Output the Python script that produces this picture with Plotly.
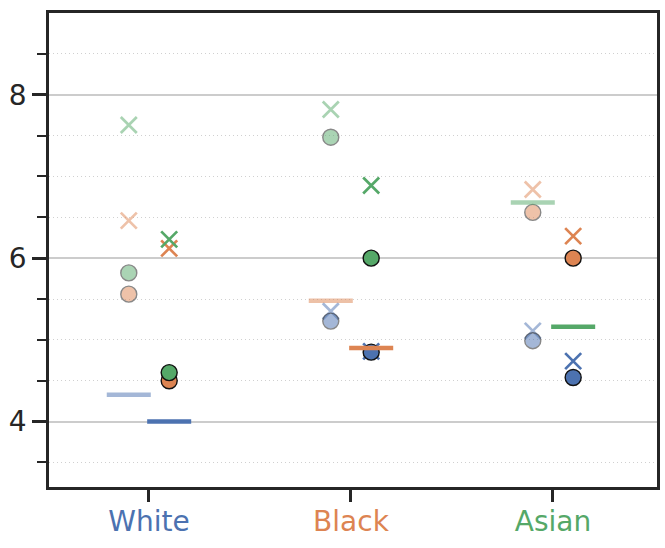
import plotly.graph_objects as go

categories = ["White", "Black", "Asian"]
colors = {"blue": "#4C72B0", "orange": "#DD8452", "green": "#55A868"}
category_colors = ["blue", "orange", "green"]

# Left (faded) group values
circle_left_blue = [None, 5.23, 4.99]
circle_left_orange = [5.56, None, 6.56]
circle_left_green = [5.82, 7.48, None]
cross_left_blue = [None, 5.35, 5.11]
cross_left_orange = [6.46, None, 6.84]
cross_left_green = [7.63, 7.82, None]
dash_left = [4.33, 5.48, 6.68]

# Right (solid) group values
circle_right_blue = [None, 4.85, 4.54]
circle_right_orange = [4.50, None, 6.00]
circle_right_green = [4.60, 6.00, None]
cross_right_blue = [None, 4.86, 4.74]
cross_right_orange = [6.12, None, 6.27]
cross_right_green = [6.23, 6.89, None]
dash_right = [4.00, 4.90, 5.16]

groups = [
    dict(offset=-0.1, opacity=0.5,
         circles={"blue": circle_left_blue, "orange": circle_left_orange, "green": circle_left_green},
         crosses={"blue": cross_left_blue, "orange": cross_left_orange, "green": cross_left_green},
         dash=dash_left),
    dict(offset=0.1, opacity=1.0,
         circles={"blue": circle_right_blue, "orange": circle_right_orange, "green": circle_right_green},
         crosses={"blue": cross_right_blue, "orange": cross_right_orange, "green": cross_right_green},
         dash=dash_right),
]

fig = go.Figure()
half = 0.109
for g in groups:
    for cname in ["blue", "orange", "green"]:
        col = colors[cname]
        xs, ys = [], []
        for i, v in enumerate(g["crosses"][cname]):
            if v is not None:
                xs.append(i + g["offset"]); ys.append(v)
        fig.add_trace(go.Scatter(x=xs, y=ys, mode="markers", opacity=g["opacity"],
                                 marker=dict(symbol="x-thin", size=16,
                                             line=dict(color=col, width=2.7)),
                                 showlegend=False, hoverinfo="skip"))
        xs, ys = [], []
        for i, v in enumerate(g["circles"][cname]):
            if v is not None:
                xs.append(i + g["offset"]); ys.append(v)
        fig.add_trace(go.Scatter(x=xs, y=ys, mode="markers", opacity=g["opacity"],
                                 marker=dict(symbol="circle", size=16, color=col,
                                             line=dict(color="#111111", width=1.4)),
                                 showlegend=False, hoverinfo="skip"))
        for i, v in enumerate(g["dash"]):
            if category_colors[i] == cname and v is not None:
                x0 = i + g["offset"]
                fig.add_trace(go.Scatter(x=[x0 - half, x0 + half], y=[v, v], mode="lines",
                                         opacity=g["opacity"],
                                         line=dict(color=col, width=4.5),
                                         showlegend=False, hoverinfo="skip"))

ticktext = [f"<span style='color:{colors[category_colors[i]]}'>{c}</span>"
            for i, c in enumerate(categories)]

axis_common = dict(showline=True, linecolor="#262626", linewidth=2.8, mirror=True,
                   ticks="outside", tickcolor="#262626", tickwidth=2.5, automargin=False,
                   zeroline=False, tickfont=dict(family="DejaVu Sans", size=28, color="#262626"))

fig.update_xaxes(range=[-0.495, 2.515], tickvals=[0, 1, 2], ticktext=ticktext,
                 ticklen=12, ticklabelstandoff=-5, showgrid=False, **axis_common)
fig.update_yaxes(range=[3.2, 9.0], tickvals=[4, 6, 8], ticklen=14,
                 showgrid=True, gridcolor="#cccccc", gridwidth=1.8,
                 minor=dict(tickvals=[3.5, 4.5, 5.0, 5.5, 6.5, 7.0, 7.5, 8.5],
                            ticks="outside", ticklen=9, tickwidth=2.2, tickcolor="#262626",
                            showgrid=True, gridcolor="#d0d0d0", gridwidth=1, griddash="1px,3px"),
                 **axis_common)

fig.update_layout(width=665, height=548, margin=dict(l=49, r=8, t=13, b=61),
                  plot_bgcolor="white", paper_bgcolor="white",
                  font=dict(family="DejaVu Sans", color="#262626"))

fig.write_html("out.html", config={"displayModeBar": False},
               post_script="document.body.style.margin='0';document.body.style.padding='0';")
